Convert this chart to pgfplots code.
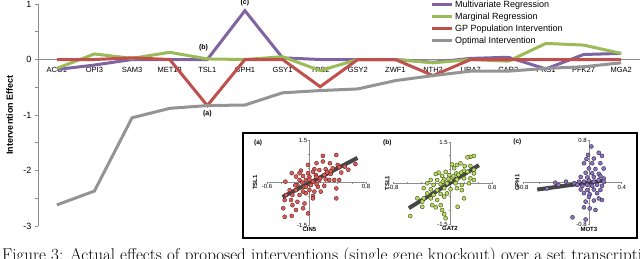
\documentclass[border=0pt]{standalone}
\usepackage{pgfplots}
\pgfplotsset{compat=1.18}
\usepackage{fontspec}
\setsansfont{Liberation Sans}
\definecolor{mvpurple}{RGB}{128,100,162}
\definecolor{mggreen}{RGB}{155,187,89}
\definecolor{gpred}{RGB}{192,80,77}
\definecolor{optgray}{RGB}{148,148,148}
\definecolor{axgray}{RGB}{140,140,140}
\definecolor{ptred}{RGB}{222,95,90}
\definecolor{ptreddk}{RGB}{90,30,30}
\definecolor{ptgreen}{RGB}{190,220,100}
\definecolor{ptgreendk}{RGB}{55,75,20}
\definecolor{ptpurple}{RGB}{140,118,190}
\definecolor{ptpurpledk}{RGB}{45,35,75}
\definecolor{regline}{RGB}{55,55,55}
\pgfplotsset{
  inset/.style={
    anchor=south west, scale only axis,
    axis lines=middle, axis line style={-, draw=axgray, line width=0.6pt},
    hide obscured x ticks=false, hide obscured y ticks=false,
    tick style={draw=axgray, line width=0.5pt}, major tick length=2pt, minor tick length=2pt,
    tick label style={font=\sffamily\fontsize{6}{7}\selectfont, inner sep=1pt},
    /pgf/number format/assume math mode=true,
    clip=false,
  },
  scat/.style={only marks, mark=*, mark size=2pt, mark options={line width=0.45pt}},
  reg/.style={regline, line width=4pt, opacity=0.92},
}
\begin{document}
\begin{tikzpicture}
\useasboundingbox (0pt,0pt) rectangle (640pt,258pt);
% ---------------- main chart ----------------
\begin{axis}[
  at={(38pt,32pt)}, anchor=south west, scale only axis,
  width=602pt, height=222pt,
  xmin=-0.5, xmax=15.5, ymin=-3, ymax=1,
  axis x line=middle, axis y line=left,
  axis line style={-, draw=axgray, line width=0.8pt},
  hide obscured x ticks=false, hide obscured y ticks=false,
  xtick={0,...,15},
  xticklabels={ACO1,OPI3,SAM3,MET13,TSL1,GPH1,GSY1,TPS2,GSY2,ZWF1,NTH2,URA7,CAR2,PKS1,PFK27,MGA2},
  x tick label style={font=\sffamily\fontsize{7.5}{8}\selectfont, anchor=north, yshift=-1pt},
  major x tick style={draw=none},
  ytick={-3,-2,-1,0,1}, minor ytick={-2.5,-1.5,-0.5,0.5},
  y tick label style={font=\sffamily\fontsize{9}{10}\selectfont},
  /pgf/number format/assume math mode=true,
  y tick style={draw=axgray, line width=0.8pt},
  tick align=outside, major tick length=3pt, minor tick length=3pt,
  ylabel={Intervention Effect},
  ylabel style={font=\sffamily\bfseries\fontsize{9}{10}\selectfont, at={(axis description cs:-0.047,0.5)}, anchor=center},
  clip=false,
  legend style={at={(axis description cs:0.651,1.025)}, anchor=north west, draw=none, fill=none,
    font=\sffamily\fontsize{9}{11}\selectfont, inner sep=0pt, row sep=0pt},
  legend cell align=left,
  legend image code/.code={\draw[#1] (0pt,0pt) -- (20pt,0pt);},
]
\addplot[mvpurple, line width=3pt] coordinates {
 (0,-0.18) (1,-0.10) (2,0.0) (3,0.0) (4,0.0) (5,0.88) (6,0.03) (7,0) (8,0) (9,0) (10,-0.05) (11,0.02) (12,0.04) (13,-0.17) (14,0.09) (15,0.11)};
\addlegendentry{Multivariate Regression}
\addplot[mggreen, line width=3pt] coordinates {
 (0,-0.16) (1,0.10) (2,0.02) (3,0.13) (4,0.01) (5,0.0) (6,0.05) (7,-0.20) (8,0.0) (9,0.0) (10,-0.06) (11,0.0) (12,-0.03) (13,0.29) (14,0.26) (15,0.11)};
\addlegendentry{Marginal Regression}
\addplot[gpred, line width=3pt] coordinates {
 (0,0) (1,0) (2,0.03) (3,0) (4,-0.83) (5,0) (6,0) (7,-0.49) (8,0) (9,0) (10,-0.29) (11,0) (12,0) (13,0) (14,0) (15,0)};
\addlegendentry{GP Population Intervention}
\addplot[optgray, line width=3pt] coordinates {
 (0,-2.62) (1,-2.37) (2,-1.05) (3,-0.88) (4,-0.83) (5,-0.82) (6,-0.60) (7,-0.56) (8,-0.53) (9,-0.38) (10,-0.29) (11,-0.21) (12,-0.21) (13,-0.16) (14,-0.13) (15,-0.06)};
\addlegendentry{Optimal Intervention}
\node[font=\sffamily\bfseries\fontsize{7}{8}\selectfont] at (axis cs:5,1.02) {(c)};
\node[font=\sffamily\bfseries\fontsize{7}{8}\selectfont] at (axis cs:3.9,0.22) {(b)};
\node[font=\sffamily\bfseries\fontsize{7}{8}\selectfont] at (axis cs:4,-0.97) {(a)};
\end{axis}
% ---------------- inset box ----------------
\draw[line width=1.4pt, fill=white] (243pt,20pt) rectangle (637pt,125pt);
% (a)
\begin{axis}[inset, at={(267pt,33pt)}, width=99pt, height=85pt,
  xmin=-0.6, xmax=0.8, ymin=-1.5, ymax=1.5,
  xtick={-0.6,0.8}, minor xtick={-0.4,-0.2,0.2,0.4,0.6},
  ytick={-1.5,1.5}, minor ytick={-1,-0.5,0.5,1}]
\addplot[scat, mark options={fill=ptred, draw=ptreddk}] coordinates {
(0.38,0.97) (0.19,0.94) (-0.02,0.62) (0.10,0.68) (0.19,0.74) (0.29,0.68) (0.40,0.62) (0.65,0.65)
(0.07,0.47) (-0.12,0.42) (-0.25,0.33) (-0.14,0.33) (-0.02,0.33) (0.05,0.38) (0.14,0.44) (0.23,0.47)
(0.33,0.50) (0.42,0.54) (0.50,0.56) (-0.19,0.21) (-0.09,0.23) (0,0.21) (0.09,0.27) (0.21,0.27)
(0.28,0.09) (0.35,0.09) (0.42,0.09) (-0.34,0.03) (-0.14,0.09) (-0.05,0.09) (0.05,0.03) (0.14,0.09)
(0.23,0.11) (-0.17,-0.09) (-0.07,-0.15) (0.02,-0.09) (0.12,-0.15) (0.21,-0.12) (0.38,-0.21)
(-0.28,-0.27) (-0.19,-0.27) (-0.09,-0.32) (0,-0.27) (0.07,-0.32) (0.16,-0.32) (-0.33,-0.44)
(-0.24,-0.44) (-0.14,-0.44) (-0.05,-0.38) (0.05,-0.48) (-0.35,-0.62) (-0.26,-0.62) (-0.17,-0.68)
(-0.07,-0.74) (-0.24,-0.80) (0.05,-0.56) (0.38,-0.56) (-0.37,-0.91) (-0.19,-0.97) (-0.09,-0.91)
(-0.02,-1.09) (-0.35,-1.21) (-0.25,-1.18) (-0.10,0.0) (0.10,0.20) (0.25,0.35) (-0.20,-0.10)
(0.30,0.30) (0.15,0.15) (0.0,0.10) (-0.05,-0.15) (0.10,-0.05) (0.30,0.40) (0.45,0.35) (0.55,0.45)};
\addplot[reg] coordinates {(-0.38,-0.51) (0.68,0.87)};
\node[font=\sffamily\bfseries\fontsize{6.5}{7}\selectfont] at (rel axis cs:-0.09,0.965) {(a)};
\node[font=\sffamily\bfseries\fontsize{6}{7}\selectfont, anchor=north, inner sep=1pt, yshift=-1.5pt] at (axis cs:0,-1.5) {CIN5};
\node[font=\sffamily\bfseries\fontsize{6}{7}\selectfont, rotate=90] at (rel axis cs:-0.12,0.5) {TSL1};
\end{axis}
% (b)
\begin{axis}[inset, at={(393.3pt,34pt)}, width=99pt, height=82pt,
  xmin=-0.8, xmax=0.6, ymin=-1.5, ymax=1.5,
  xtick={-0.8,0.6}, minor xtick={-0.6,-0.4,-0.2,0.2,0.4},
  ytick={-1.5,1.5}, minor ytick={-1,-0.5,0.5,1}]
\addplot[scat, mark options={fill=ptgreen, draw=ptgreendk}] coordinates {
(0.29,0.96) (0.34,0.99) (0.25,0.94) (0.03,0.68) (0.10,0.66) (0.15,0.72) (0.21,0.62) (0.29,0.62)
(0.06,0.54) (-0.06,0.41) (-0.16,0.38) (-0.20,0.33) (-0.11,0.26) (-0.01,0.29) (0.09,0.35) (0.16,0.38)
(0.25,0.41) (0.34,0.48) (-0.27,0.11) (-0.18,0.11) (-0.08,0.13) (0.01,0.11) (0.10,0.13) (0.20,0.17)
(0.29,0.17) (0.34,0.35) (-0.32,-0.01) (-0.23,-0.07) (-0.13,-0.04) (-0.04,-0.01) (0.08,-0.01)
(0.17,-0.07) (0.27,-0.01) (0.34,0.11) (-0.37,-0.19) (-0.27,-0.23) (-0.18,-0.26) (-0.08,-0.19)
(0.01,-0.23) (0.10,-0.19) (0.17,-0.26) (-0.32,-0.38) (-0.23,-0.44) (-0.13,-0.40) (-0.04,-0.38)
(-0.46,-0.56) (-0.37,-0.56) (-0.27,-0.56) (-0.18,-0.62) (-0.08,-0.50) (0.20,-0.56) (-0.39,-0.68)
(-0.25,-0.81) (-0.20,-0.89) (-0.11,-0.99) (-0.08,-1.14) (0.11,-0.87) (-0.56,-1.21) (-0.39,-0.87)
(-0.06,-1.29) (-0.13,-0.81) (0.05,0.25) (-0.10,0.05) (0.20,0.45) (0.12,0.30) (-0.02,0.15)};
\addplot[reg] coordinates {(-0.58,-0.92) (0.41,0.65)};
\node[font=\sffamily\bfseries\fontsize{6.5}{7}\selectfont] at (rel axis cs:-0.06,0.99) {(b)};
\node[font=\sffamily\bfseries\fontsize{6}{7}\selectfont, anchor=north, inner sep=1pt, yshift=-1.5pt] at (axis cs:0,-1.5) {GAT2};
\node[font=\sffamily\bfseries\fontsize{6}{7}\selectfont, rotate=90] at (rel axis cs:-0.06,0.5) {TSL1};
\end{axis}
% (c)
\begin{axis}[inset, at={(523.3pt,33.3pt)}, width=98.4pt, height=84pt,
  xmin=-0.8, xmax=0.4, ymin=-0.8, ymax=0.8,
  xtick={-0.8,0.4}, minor xtick={-0.6,-0.4,-0.2,0.2},
  ytick={-0.8,0.8}, minor ytick={-0.4,0.4}]
\addplot[scat, mark options={fill=ptpurple, draw=ptpurpledk}] coordinates {
(0.03,0.69) (-0.01,0.53) (0.12,0.57) (-0.03,0.45) (0.06,0.46) (0.16,0.51) (-0.06,0.37) (0.04,0.37)
(0.14,0.37) (0,0.27) (0.08,0.26) (0.18,0.27) (-0.04,0.19) (0.04,0.18) (0.12,0.17) (-0.10,0.11)
(-0.02,0.10) (0.06,0.11) (0.14,0.13) (0.18,0.08) (-0.41,0) (-0.28,0.02) (-0.18,-0.01) (-0.12,0.02)
(-0.06,0.02) (0,0.04) (0.06,0.02) (0.12,0.05) (0.18,0.02) (-0.14,-0.04) (-0.08,-0.06) (-0.02,-0.04)
(0.04,-0.06) (0.10,-0.04) (0.16,-0.06) (-0.10,-0.13) (-0.02,-0.14) (0.06,-0.13) (0.14,-0.14)
(-0.06,-0.20) (0.01,-0.22) (0.10,-0.20) (0,-0.27) (0.16,-0.33) (0.12,-0.30) (-0.04,-0.36)
(0.06,-0.34) (-0.06,-0.47) (0.01,-0.49) (0.08,-0.52) (-0.20,-0.66) (-0.04,-0.70) (-0.37,-0.04)
(-0.51,-0.11)};
\addplot[reg] coordinates {(-0.63,-0.13) (0.18,0.04)};
\node[font=\sffamily\bfseries\fontsize{6.5}{7}\selectfont] at (rel axis cs:-0.06,0.985) {(c)};
\node[font=\sffamily\bfseries\fontsize{6}{7}\selectfont, anchor=north, inner sep=1pt, yshift=-1.5pt] at (axis cs:0,-0.8) {MOT3};
\node[font=\sffamily\bfseries\fontsize{6}{7}\selectfont, rotate=90] at (rel axis cs:-0.06,0.5) {GPH1};
\end{axis}
% ---------------- caption ----------------
\node[anchor=base west, inner sep=0pt, font=\rmfamily\fontsize{17}{19}\selectfont] at (2pt,-2.8pt)
  {Figure 3: Actual effects of proposed interventions (single gene knockout) over a set transcription factors};
\end{tikzpicture}
\end{document}
